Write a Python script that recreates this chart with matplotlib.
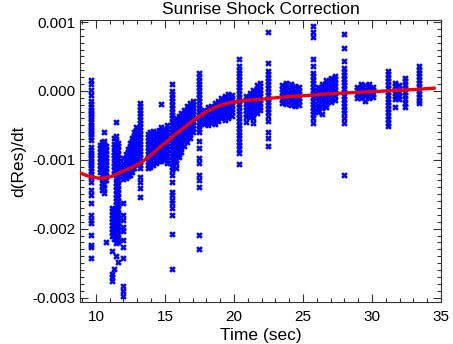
import matplotlib
matplotlib.use("Agg")
import matplotlib.pyplot as plt
from matplotlib.ticker import MultipleLocator, FuncFormatter

# d(Res)/dt samples, grouped by time column; values in units of 1e-3
early_cols = [
    (9.65, [0.16, 0.10, 0.01, -0.06, -0.14, -0.19, -0.23, -0.27, -0.30, -0.34, -0.38, -0.41,
            -0.45, -0.49, -0.52, -0.56, -0.60, -0.63, -0.67, -0.71, -0.82, -0.86, -0.90,
            -0.93, -0.97, -1.01, -1.05, -1.08, -1.12, -1.16, -1.20, -1.25, -1.32, -1.44,
            -1.51, -1.63, -1.80, -1.87, -1.91, -2.09, -2.23, -2.27, -2.42]),
    (10.30, [-0.78, -0.83, -0.88, -0.93, -0.98, -1.03, -1.08, -1.13, -1.18]),
    (10.45, [-0.74, -0.79, -0.85, -0.90, -0.95, -1.00, -1.06, -1.11, -1.16, -1.22, -1.27,
             -1.33, -1.38, -1.44]),
    (10.60, [-0.60, -0.72, -0.77, -0.82, -0.87, -0.92, -0.97, -1.03, -1.08, -1.13, -1.19,
             -1.24, -1.30, -1.35, -1.41, -1.48]),
    (10.75, [-0.80, -0.86, -0.91, -0.97, -1.02, -1.07, -1.12, -1.18, -1.23, -1.29, -2.20]),
    (11.15, [-1.70, -1.75, -1.80, -1.85, -1.90, -1.95, -2.00, -2.05, -2.10, -2.33, -2.66,
             -2.70, -2.76]),
    (11.30, [-0.68, -0.77, -0.82, -0.88, -0.93, -0.98, -1.04, -1.09, -1.15, -1.20, -1.72,
             -1.77, -1.83, -1.88, -1.94, -1.99, -2.04, -2.10, -2.15, -2.59]),
    (11.45, [-0.45, -0.65, -0.72, -0.78, -0.83, -0.89, -0.94, -1.00, -1.05, -1.11, -1.16,
             -1.22, -1.27, -1.33, -1.38, -1.44, -1.49, -1.55, -1.60, -1.66, -1.71, -1.77,
             -1.82, -1.88, -1.93, -1.99, -2.04, -2.10, -2.15, -2.21, -2.40]),
    (11.60, [-0.75, -0.80, -0.86, -0.91, -0.97, -1.02, -1.08, -1.13, -1.19, -1.24, -1.30,
             -1.36, -1.42, -1.48, -1.54, -1.60, -1.66, -1.72, -1.78, -1.84, -1.90, -1.96,
             -2.02, -2.08, -2.14, -2.20, -2.49]),
    (11.95, [-0.98, -1.04, -1.10, -1.16, -1.22, -1.28, -1.63, -1.80, -1.87, -1.97, -2.03,
             -2.16, -2.27, -2.42, -2.83, -2.90, -2.98]),
    (12.15, [-0.92, -0.97, -1.02, -1.07, -1.12, -1.17, -1.22, -1.27]),
    (12.30, [-0.84, -0.89, -0.94, -0.99, -1.04, -1.09, -1.14, -1.19, -1.24]),
    (12.45, [-0.76, -0.81, -0.86, -0.91, -0.96, -1.01, -1.06, -1.11, -1.16, -1.22]),
    (12.60, [-0.68, -0.73, -0.78, -0.83, -0.88, -0.93, -0.98, -1.03, -1.08, -1.13, -1.18]),
    (12.75, [-0.60, -0.65, -0.70, -0.75, -0.80, -0.86, -0.91, -0.96, -1.01, -1.06, -1.12]),
    (12.90, [-0.53, -0.58, -0.64, -0.69, -0.74, -0.80, -0.85, -0.90, -0.96, -1.01, -1.06]),
    (13.20, [-0.17, -0.22, -0.27, -0.32, -0.37, -0.42, -0.47, -0.52, -0.57, -0.62, -0.67,
             -0.72, -0.77, -0.82, -0.87, -0.92, -0.97, -1.02, -1.07, -1.12, -1.25, -1.32,
             -1.41, -1.54]),
]

mid_cols = [
    (13.75, [-0.62, -0.67, -0.72, -0.77, -0.82, -0.87, -0.92, -0.97, -1.02, -1.07, -1.12]),
    (13.95, [-0.60, -0.65, -0.70, -0.75, -0.80, -0.85, -0.90, -0.95, -1.00, -1.05, -1.10]),
    (14.15, [-0.58, -0.63, -0.68, -0.73, -0.78, -0.83, -0.88, -0.93, -0.98, -1.03, -1.08]),
    (14.35, [-0.60, -0.65, -0.70, -0.75, -0.80, -0.85, -0.90, -0.95, -1.00, -1.05]),
    (14.55, [-0.56, -0.61, -0.66, -0.71, -0.76, -0.81, -0.86, -0.91, -0.96, -1.01]),
    (14.75, [-0.19, -0.52, -0.57, -0.62, -0.67, -0.72, -0.77, -0.82, -0.87, -0.92, -0.97,
             -1.02]),
    (14.95, [-0.55, -0.60, -0.65, -0.70, -0.75, -0.80, -0.85, -0.90, -0.95, -1.00]),
    (15.15, [-0.50, -0.55, -0.60, -0.65, -0.70, -0.75, -0.80, -0.85, -0.90, -0.95, -1.00,
             -1.05]),
    (15.55, [0.10, 0.00, -0.05, -0.10, -0.15, -0.20, -0.25, -0.30, -0.35, -0.40, -0.45,
             -0.50, -0.55, -0.60, -0.65, -0.70, -0.75, -0.80, -0.85, -0.90, -0.95, -1.00,
             -1.05, -1.10, -1.15, -1.22, -1.32, -1.47, -1.51, -1.58, -1.62, -1.70, -1.80,
             -2.07, -2.59]),
    (15.80, [-0.40, -0.45, -0.50, -0.55, -0.60, -0.65, -0.70, -0.75, -0.80, -0.85, -0.90,
             -0.95, -1.00, -1.05, -1.12]),
    (16.00, [-0.36, -0.41, -0.46, -0.51, -0.56, -0.61, -0.66, -0.71, -0.76, -0.81, -0.86,
             -0.91, -0.96]),
    (16.20, [-0.32, -0.37, -0.42, -0.47, -0.52, -0.57, -0.62, -0.67, -0.72, -0.77, -0.82,
             -0.88]),
    (16.40, [-0.28, -0.33, -0.38, -0.43, -0.48, -0.53, -0.58, -0.63, -0.68, -0.73, -0.80]),
    (16.60, [-0.22, -0.27, -0.32, -0.37, -0.42, -0.47, -0.52, -0.57, -0.62, -0.67, -0.74]),
    (16.80, [-0.17, -0.22, -0.27, -0.32, -0.37, -0.42, -0.47, -0.52, -0.57, -0.62, -0.68]),
    (17.00, [-0.14, -0.19, -0.24, -0.29, -0.34, -0.39, -0.44, -0.49, -0.54, -0.60]),
    (17.50, [0.26, 0.20, 0.15, 0.10, 0.05, 0.00, -0.05, -0.10, -0.15, -0.20, -0.25, -0.30,
             -0.35, -0.40, -0.45, -0.50, -0.55, -0.60, -0.72, -0.83, -0.97, -1.05, -1.22,
             -1.29, -1.39, -2.09, -2.30]),
    (17.85, [-0.28, -0.33, -0.38, -0.43, -0.48]),
    (18.10, [-0.24, -0.29, -0.34, -0.39, -0.44, -0.49]),
    (18.35, [-0.22, -0.27, -0.32, -0.37, -0.42, -0.47]),
    (18.60, [-0.18, -0.23, -0.28, -0.33, -0.38, -0.43, -0.48]),
    (18.85, [-0.14, -0.19, -0.24, -0.29, -0.34, -0.39, -0.44]),
    (19.10, [-0.10, -0.15, -0.20, -0.25, -0.30, -0.35, -0.40]),
    (19.35, [-0.07, -0.12, -0.17, -0.22, -0.27, -0.32, -0.37, -0.42]),
    (19.60, [-0.05, -0.10, -0.15, -0.20, -0.25, -0.30, -0.35, -0.40]),
    (19.85, [-0.06, -0.11, -0.16, -0.21, -0.26, -0.31, -0.36]),
    (20.35, [0.47, 0.36, 0.31, 0.26, 0.21, 0.16, 0.11, 0.06, 0.01, -0.04, -0.09, -0.14,
             -0.19, -0.24, -0.29, -0.34, -0.39, -0.44, -0.49, -0.54, -0.59, -0.64, -0.69,
             -0.74, -0.79, -0.84, -0.90, -1.06]),
]

late_cols = [
    (20.90, [-0.08, -0.13, -0.18, -0.23, -0.28, -0.33, -0.38, -0.45]),
    (21.15, [-0.03, -0.08, -0.13, -0.18, -0.23, -0.28, -0.33, -0.38]),
    (21.40, [0.02, -0.03, -0.08, -0.13, -0.18, -0.23, -0.28, -0.33, -0.40, -0.46]),
    (21.65, [0.08, 0.03, -0.02, -0.07, -0.12, -0.17, -0.22, -0.27, -0.32]),
    (21.90, [0.12, 0.07, 0.02, -0.03, -0.08, -0.13, -0.18, -0.23, -0.28]),
    (22.50, [0.86, 0.40, 0.29, 0.24, 0.19, 0.14, 0.09, 0.04, -0.01, -0.06, -0.11, -0.16,
             -0.21, -0.26, -0.31, -0.36, -0.43, -0.60, -0.69, -0.80]),
    (23.50, [0.08, 0.03, -0.02, -0.07, -0.12, -0.17]),
    (23.80, [0.12, 0.07, 0.02, -0.03, -0.08, -0.13, -0.19]),
    (24.10, [0.10, 0.05, 0.00, -0.05, -0.10, -0.15, -0.21]),
    (24.40, [0.07, 0.02, -0.03, -0.08, -0.13, -0.18, -0.22]),
    (24.70, [0.05, 0.00, -0.05, -0.10, -0.15, -0.20]),
    (25.75, [0.94, 0.86, 0.79, 0.47, 0.36, 0.26, 0.21, 0.16, 0.11, 0.06, 0.01, -0.04,
             -0.09, -0.14, -0.19, -0.24, -0.29, -0.34, -0.39, -0.46]),
    (26.10, [0.05, 0.00, -0.05, -0.10, -0.15, -0.20, -0.25, -0.30]),
    (26.40, [0.10, 0.05, 0.00, -0.05, -0.10, -0.15, -0.20, -0.25, -0.33]),
    (26.70, [0.16, 0.11, 0.06, 0.01, -0.04, -0.09, -0.14, -0.19, -0.24]),
    (27.00, [0.19, 0.14, 0.09, 0.04, -0.01, -0.06, -0.11, -0.16]),
    (27.30, [0.22, 0.17, 0.12, 0.07, 0.02, -0.03, -0.08, -0.13]),
    (27.95, [0.82, 0.62, 0.43, 0.33, 0.28, 0.23, 0.18, 0.13, 0.08, 0.03, -0.02, -0.07,
             -0.12, -0.17, -0.22, -0.27, -0.32, -0.39, -0.47, -1.22]),
    (28.90, [0.06, 0.01, -0.04, -0.10]),
    (29.20, [0.10, 0.05, 0.00, -0.05, -0.10]),
    (29.50, [0.08, 0.03, -0.02, -0.07, -0.14]),
    (29.80, [0.10, 0.05, 0.00, -0.05, -0.10]),
    (30.05, [0.06, 0.01, -0.04, -0.09]),
    (31.15, [0.29, 0.24, 0.19, 0.14, 0.09, 0.04, -0.01, -0.06, -0.11, -0.16, -0.21, -0.26,
             -0.31, -0.36, -0.41, -0.46, -0.51]),
    (31.70, [0.12, 0.07, 0.02, -0.03, -0.08, -0.12, -0.24]),
    (31.95, [0.08, 0.03, -0.02, -0.07, -0.12]),
    (32.40, [0.19, 0.14, 0.09, 0.04, -0.01, -0.06, -0.11, -0.17, -0.24]),
    (33.40, [0.36, 0.31, 0.26, 0.21, 0.16, 0.11, 0.06, 0.01, -0.04, -0.09, -0.14, -0.18]),
]

# fitted correction curve (units of 1e-3)
fit_time = [8.85, 9.5, 10.3, 11.0, 11.7, 12.5, 13.2, 14.0, 14.6, 15.0, 15.7, 16.4, 17.1,
            17.85, 18.6, 19.3, 20.0, 20.7, 22.0, 23.5, 25.0, 27.0, 29.0, 31.0, 33.0, 34.5]
fit_vals = [-1.19, -1.24, -1.27, -1.25, -1.19, -1.12, -1.05, -0.93, -0.82, -0.76, -0.64,
            -0.53, -0.42, -0.32, -0.24, -0.19, -0.16, -0.14, -0.12, -0.09, -0.07, -0.04,
            -0.02, 0.00, 0.02, 0.04]

plt.rcParams['font.family'] = ['Liberation Sans', 'DejaVu Sans']
plt.rcParams['axes.unicode_minus'] = False

fig = plt.figure(figsize=(4.53, 3.44), dpi=100)
ax = fig.add_axes([0.1766, 0.1221, 0.7969, 0.8198])

xs, ys = [], []
for t, vals in early_cols + mid_cols + late_cols:
    for v in vals:
        xs.append(t)
        ys.append(v * 1e-3)

ax.scatter(xs, ys, marker='x', s=12, linewidths=1.8, color='#0000ff', zorder=2)
ax.plot(fit_time, [v * 1e-3 for v in fit_vals], color='#ee0000', lw=2.4, zorder=3)

ax.set_xlim(8.85, 35)
ax.set_ylim(-3.064e-3, 1.03e-3)
ax.xaxis.set_major_locator(MultipleLocator(5))
ax.xaxis.set_minor_locator(MultipleLocator(1))
ax.yaxis.set_major_locator(MultipleLocator(0.001))
ax.yaxis.set_minor_locator(MultipleLocator(0.0001))
ax.yaxis.set_major_formatter(FuncFormatter(lambda v, p: '%.3f' % v))

ax.tick_params(which='both', direction='in', top=True, right=True, labelsize=11,
               width=0.8, color='#333333')
ax.tick_params(which='major', length=5.5)
ax.tick_params(which='minor', length=2.8)
ax.tick_params(axis='x', which='major', pad=6)
for sp in ax.spines.values():
    sp.set_linewidth(0.8)
    sp.set_color('#333333')

ax.set_title('Sunrise Shock Correction', fontsize=12.5, pad=4)
ax.set_xlabel('Time (sec)', fontsize=12.5, labelpad=3)
ax.set_ylabel('d(Res)/dt', fontsize=12.5, labelpad=4)

fig.savefig('out.png', dpi=100)
